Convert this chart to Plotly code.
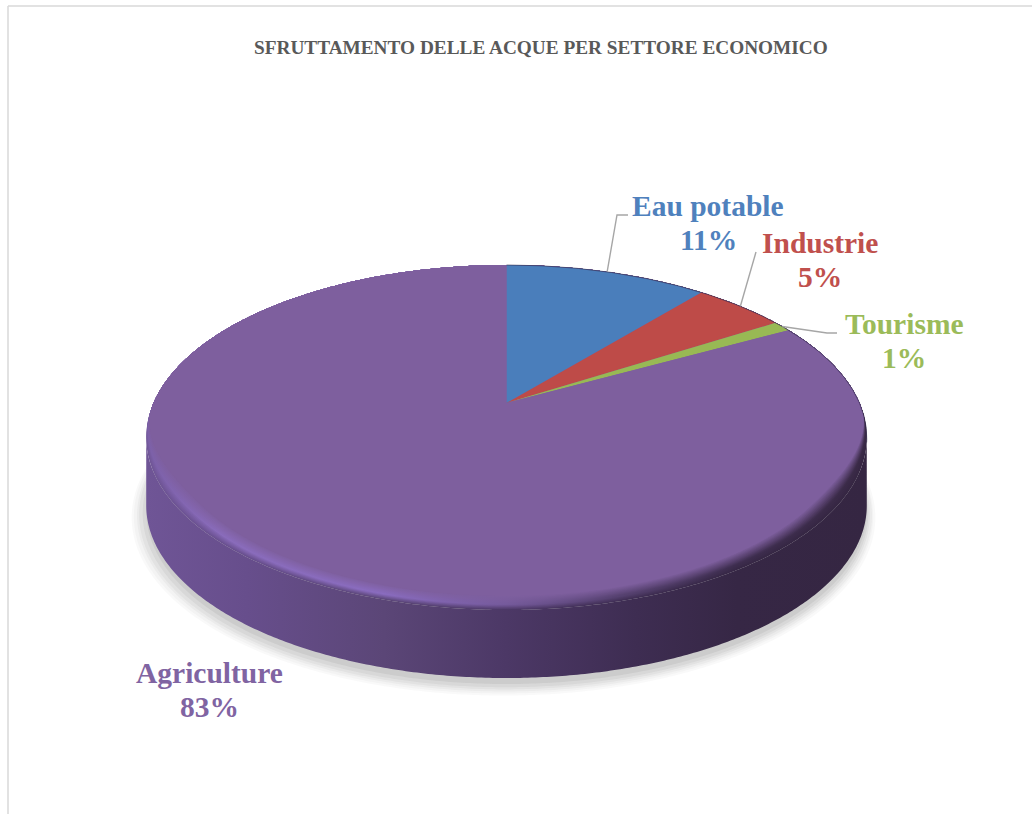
import numpy as np
import plotly.graph_objects as go

# ---- data ----
categories = ["Eau potable", "Industrie", "Tourisme", "Agriculture"]
values = [11, 5, 1, 83]
slice_colors = ["#4a7ebb", "#be4b48", "#98b954", "#7e5f9e"]
label_colors = ["#4f81bd", "#c0504d", "#9bbb59", "#8064a2"]
title = "SFRUTTAMENTO DELLE ACQUE PER SETTORE ECONOMICO"

# ---- disc geometry (perspective projection of a unit disc, in page pixels) ----
CX, CY = 506.5, 403.0
A, B, K = 353.0, 165.6, 0.2
DEPTH = 68.0
RIM = 0.055
label_pos = [(708, 223), (820, 260), (904, 341), (209, 690)]
elbows = [[(617, 215), (628, 215)], [(756, 252)], [(827, 333), (837, 333)], []]


def project(u, v):
    w = 1 + K * v
    return CX + A * u / w, CY - B * v / w


def radius(theta, d):
    v = np.cos(theta)
    s = np.clip((0.0 - v) / 0.6, 0, 1)
    return 1 - d * RIM * s * s * (3 - 2 * s)


def outline(t0, t1, d=0.0, n=360):
    n = max(int(abs(t1 - t0) / (2 * np.pi) * n), 6)
    th = np.linspace(t0, t1, n)
    r = radius(th, d)
    return project(r * np.sin(th), r * np.cos(th))


def hexmix(a, b, t):
    ca = [int(a[i:i + 2], 16) for i in (1, 3, 5)]
    cb = [int(b[i:i + 2], 16) for i in (1, 3, 5)]
    return "#%02x%02x%02x" % tuple(round(x + (y - x) * t) for x, y in zip(ca, cb))


fig = go.Figure()

# drop shadow
full_x, full_y = outline(0, 2 * np.pi, n=720)
for dx, dy, grow, alpha in [(-3, 12, 1.032, .035), (-3, 11, 1.026, .04), (-2, 10, 1.02, .05),
                            (-2, 9, 1.014, .06), (-1, 8, 1.007, .07), (0, 6, 1.0, .09)]:
    fig.add_trace(go.Scatter(
        x=506 + (full_x - 506) * grow + dx,
        y=437 + (full_y - 437) * grow + DEPTH + dy,
        mode="none", fill="toself", fillcolor=f"rgba(90,90,90,{alpha})", hoverinfo="skip"))

# extruded side
side_stops = [(0, "#6f5596"), (.14, "#674e8c"), (.33, "#5b4677"), (.5, "#4c3866"),
              (.68, "#3e2d52"), (.82, "#362745"), (1, "#352642")]
lo = full_y > full_y[np.argmin(full_x)] - 1
order = np.argsort(full_x[lo])
sx, sy = full_x[lo][order], full_y[lo][order]
fig.add_trace(go.Scatter(
    x=np.r_[sx, sx[::-1]], y=np.r_[sy, sy[::-1] + DEPTH],
    mode="none", fill="toself", hoverinfo="skip",
    fillgradient=dict(type="horizontal", colorscale=[[p, c] for p, c in side_stops])))

# bevel: nested outlines from the side colour through a highlight into the face colour
face = slice_colors[3]
hi_stops = [(0, "#7c60a8"), (.1, "#8a6cbc"), (.33, "#8a6cc0"), (.5, "#755a9c"),
            (.66, "#54406e"), (.84, "#3f2e50"), (1, "#3a2a47")]
levels = np.linspace(0, 1, 17)
for d in levels:
    lx, ly = outline(0, 2 * np.pi, d=d, n=720)
    if d < .35:
        tt = d / .35
        cs = [[p, hexmix(sc, hc, tt)] for (p, sc), (_, hc) in zip(side_stops, hi_stops)]
    else:
        tt = (d - .35) / .65
        cs = [[p, hexmix(hc, face, tt)] for p, hc in hi_stops]
    fig.add_trace(go.Scatter(x=lx, y=ly, mode="none", fill="toself", hoverinfo="skip",
                             fillgradient=dict(type="horizontal", colorscale=cs,
                                               start=float(full_x.min()), stop=float(full_x.max()))))

# pie slices, drawn from the values
cum = np.cumsum([0] + values) / sum(values) * 2 * np.pi
for name, val, col, t0, t1 in zip(categories, values, slice_colors, cum[:-1], cum[1:]):
    ox, oy = outline(t0, t1, d=1.0, n=720)
    fig.add_trace(go.Scatter(
        x=np.r_[CX, ox, CX], y=np.r_[CY, oy, CY], mode="none", fill="toself",
        fillcolor=col, name=name, text=f"{name}: {val}%", hoverinfo="text"))

# thin edge on the far side of the disc
ex, ey = outline(0, 1.8, n=720)
fig.add_trace(go.Scatter(x=ex, y=ey, mode="lines", line=dict(color="rgba(50,42,75,.6)", width=1),
                         hoverinfo="skip"))

# leader lines start on the slice's mid-angle
for i, pts in enumerate(elbows):
    if not pts:
        continue
    mid = (cum[i] + cum[i + 1]) / 2
    x0, y0 = project(np.sin(mid), np.cos(mid))
    fig.add_trace(go.Scatter(x=[x0] + [p[0] for p in pts], y=[y0] + [p[1] for p in pts],
                             mode="lines", line=dict(color="#a6a6a6", width=1.4), hoverinfo="skip"))

annotations = [dict(x=541, y=47, text=f"<b>{title}</b>", showarrow=False, xref="x", yref="y",
                    font=dict(family="Liberation Serif", size=19.3, color="#595959"))]
for name, val, col, (lx, ly) in zip(categories, values, label_colors, label_pos):
    for txt, off in ((name, -17), (f"{val}%", 17)):
        annotations.append(dict(x=lx, y=ly + off, xref="x", yref="y", showarrow=False,
                                text=f"<b>{txt}</b>",
                                font=dict(family="Liberation Serif", size=29.5, color=col)))

# chart-area frame
frame = [dict(type="line", xref="x", yref="y", x0=8, x1=8, y0=6, y1=814,
              line=dict(color="#d9d9d9", width=1.5)),
         dict(type="line", xref="x", yref="y", x0=8, x1=1032, y0=6, y1=6,
              line=dict(color="#d9d9d9", width=1.5))]

fig.update_layout(
    width=1032, height=814, margin=dict(l=0, r=0, t=0, b=0), showlegend=False,
    paper_bgcolor="white", plot_bgcolor="white", annotations=annotations, shapes=frame,
    xaxis=dict(range=[0, 1032], visible=False, fixedrange=True),
    yaxis=dict(range=[814, 0], visible=False, fixedrange=True),
)
fig.write_html("out.html", config={"displayModeBar": False},
               post_script="document.body.style.margin='0';document.body.style.overflow='hidden';")
